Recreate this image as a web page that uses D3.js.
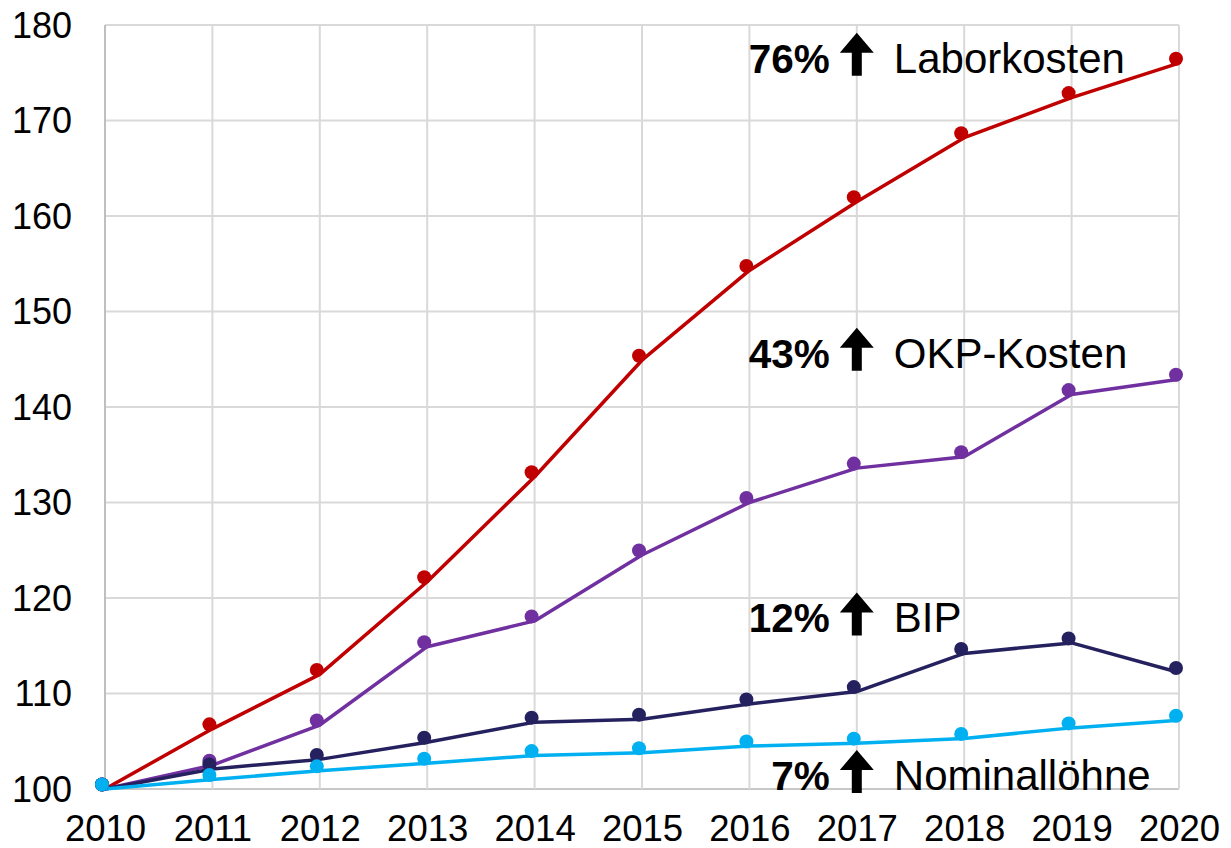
<!DOCTYPE html>
<html>
<head>
<meta charset="utf-8">
<script src="https://cdn.jsdelivr.net/npm/d3@7"></script>
<style>
body { margin: 0; background: #fff; }
text { font-family: "Liberation Sans", Arial, sans-serif; fill: #000; }
</style>
</head>
<body>
<script>
var years = [2010, 2011, 2012, 2013, 2014, 2015, 2016, 2017, 2018, 2019, 2020];
var yTicks = [100, 110, 120, 130, 140, 150, 160, 170, 180];

var laborkosten = [100, 106.3, 112.0, 121.7, 132.7, 144.9, 154.3, 161.5, 168.2, 172.4, 176.0];
var okpKosten = [100, 102.5, 106.7, 114.9, 117.6, 124.5, 130.0, 133.6, 134.8, 141.3, 142.9];
var bip = [100, 102.1, 103.1, 104.9, 107.0, 107.3, 108.9, 110.2, 114.2, 115.3, 112.2];
var nominalloehne = [100, 101.0, 101.9, 102.7, 103.5, 103.8, 104.5, 104.8, 105.3, 106.4, 107.2];

var seriesNames = ['Laborkosten', 'OKP-Kosten', 'BIP', 'Nominallöhne'];
var seriesPct = ['76%', '43%', '12%', '7%'];
var seriesColors = ['#c00000', '#7030a0', '#25215f', '#00b0f0'];
// value where each annotation row's baseline sits
var labelAt = [175.0, 144.1, 116.4, 99.9];

var series = [laborkosten, okpKosten, bip, nominalloehne].map(function(vals, i){
    return {name: seriesNames[i], pct: seriesPct[i], color: seriesColors[i], labelAt: labelAt[i],
        values: vals.map(function(v, j){ return {year: years[j], value: v}; })};
});

var margin = {top: 25, right: 52, bottom: 59, left: 105};
var width = 1231 - margin.left - margin.right;
var height = 848 - margin.top - margin.bottom;

var svg = d3.select('body')
.append('svg').attr('width', 1231)
.attr('height', 848)
.append('g')
.attr('transform', 'translate(' + margin.left + ',' + margin.top + ')');

var x = d3.scaleLinear().domain([2010, 2020]).range([0, width]);
var y = d3.scaleLinear().domain([100, 180]).range([height, 0]);

// grid
svg.append('g').selectAll('line.h')
.data(yTicks).enter().append('line')
.attr('x1', 0).attr('x2', width)
.attr('y1', function(d){ return y(d); })
.attr('y2', function(d){ return y(d); })
.attr('stroke', function(d){ return d == 100 ? '#c8c8c8' : '#d9d9d9'; })
.attr('stroke-width', 2);

svg.append('g').selectAll('line.v')
.data(years).enter().append('line')
.attr('y1', 0).attr('y2', height)
.attr('x1', function(d){ return x(d); })
.attr('x2', function(d){ return x(d); })
.attr('stroke', function(d){ return d == 2010 ? '#bfbfbf' : '#d9d9d9'; })
.attr('stroke-width', 2);

// axes (labels only)
var yAxis = svg.append('g')
.call(d3.axisLeft(y).tickValues(yTicks).tickSize(0).tickPadding(33));
yAxis.select('.domain').remove();
yAxis.selectAll('text').style('font-size', '36px').attr('dy', '0.34em');

var xAxis = svg.append('g')
.attr('transform', 'translate(0,' + height + ')')
.call(d3.axisBottom(x).tickValues(years).tickFormat(d3.format('d')).tickSize(0).tickPadding(26));
xAxis.select('.domain').remove();
xAxis.selectAll('text').style('font-size', '36.5px').attr('dy', '0.71em');

// lines
var line = d3.line()
.x(function(d){ return x(d.year); })
.y(function(d){ return y(d.value); });

svg.append('g').selectAll('path')
.data(series).enter().append('path')
.attr('d', function(d){ return line(d.values); })
.attr('fill', 'none')
.attr('stroke', function(d){ return d.color; })
.attr('stroke-width', 3.5)
.attr('stroke-linejoin', 'round');

// markers sit a little up-left of the line vertices in the original
var dots = svg.append('g').attr('transform', 'translate(-3,-4.5)');
series.forEach(function(s){
    dots.selectAll(null)
    .data(s.values).enter().append('circle')
    .attr('cx', function(d){ return x(d.year); })
    .attr('cy', function(d){ return y(d.value); })
    .attr('r', 7)
    .attr('fill', s.color);
});

// annotations
var ann = svg.append('g').selectAll('g')
.data(series).enter().append('g')
.attr('transform', function(d){ return 'translate(' + x(2017) + ',' + y(d.labelAt) + ')'; });

ann.append('text')
.attr('x', -27).attr('text-anchor', 'end')
.style('font-size', '40.5px').style('font-weight', 'bold')
.text(function(d){ return d.pct; });

// heavy up arrow, baseline-anchored
ann.append('path')
.attr('d', 'M0,-40 L-17,-20 L-5,-20 L-5,3 L5,3 L5,-20 L17,-20 Z')
.attr('fill', '#000');

ann.append('text')
.attr('x', 37)
.style('font-size', '42px')
.text(function(d){ return d.name; });
</script>
</body>
</html>
